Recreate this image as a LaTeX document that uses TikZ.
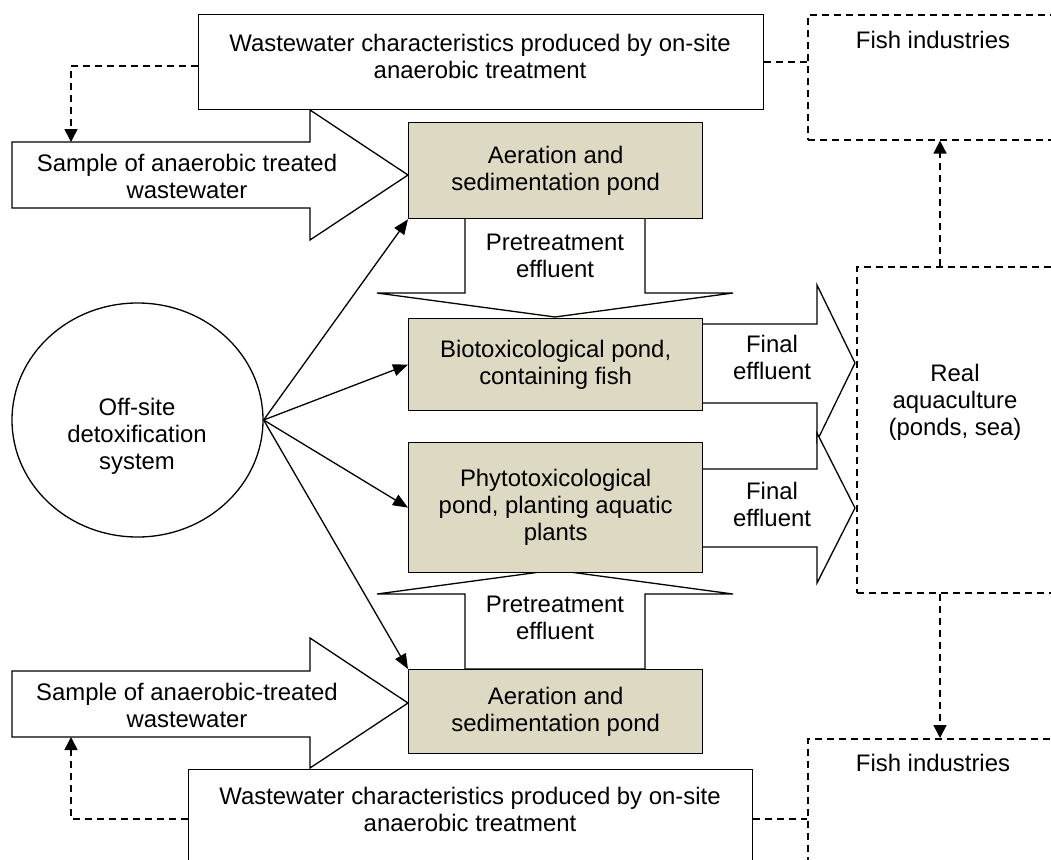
\documentclass[tikz,border=0pt]{standalone}
\usepackage{fontspec}
\setmainfont{Liberation Sans}
\usetikzlibrary{shapes.geometric,arrows.meta}
\definecolor{pond}{RGB}{221,217,195}
\tikzset{
  txt/.style={font=\fontsize{23.9}{27}\selectfont, align=center, inner sep=0pt},
  plainbox/.style={draw, line width=1.3pt, fill=white, inner sep=0pt, anchor=north west},
  pondbox/.style={plainbox, fill=pond, txt},
  dashbox/.style={draw, line width=1.6pt, dash pattern=on 7pt off 5pt, inner sep=0pt, anchor=north west},
  blockarrow/.style={draw, fill=white, line width=1.3pt, line join=miter},
  conn/.style={line width=1.3pt, -{Triangle[length=15pt,width=12pt]}},
  dline/.style={line width=1.6pt, dash pattern=on 7pt off 5pt},
  dconn/.style={dline, -{Triangle[length=13pt,width=13pt]}}
}
\begin{document}
\begin{tikzpicture}[x=1pt,y=-1pt]
\useasboundingbox (0,0) rectangle (1051,859);
\clip (0,0) rectangle (1051,859);

% block arrows
\draw[blockarrow] (12,142) -- (310,142) -- (310,110) -- (408,175) -- (310,240) -- (310,208) -- (12,208) -- cycle;
\draw[blockarrow] (12,671) -- (310,671) -- (310,638) -- (408,703) -- (310,768) -- (310,737) -- (12,737) -- cycle;
\draw[blockarrow] (465,218) -- (645,218) -- (645,293) -- (733,293) -- (555,317) -- (377,293) -- (465,293) -- cycle;
\draw[blockarrow] (465,669) -- (645,669) -- (645,594) -- (733,594) -- (555,570) -- (377,594) -- (465,594) -- cycle;
\draw[blockarrow] (702,324) -- (817,324) -- (817,285) -- (855,363) -- (817,441) -- (817,403) -- (702,403) -- cycle;
\draw[blockarrow] (702,469) -- (817,469) -- (817,433) -- (855,508) -- (817,583) -- (817,547) -- (702,547) -- cycle;

\coordinate (s1top) at (71,142);
\coordinate (s2bot) at (71,737);
\coordinate (upx) at (940,0);

% boxes
\node[plainbox, minimum width=565pt, minimum height=95pt] (ww1) at (198,14) {};
\node[plainbox, minimum width=564pt, minimum height=120pt] (ww2) at (188,769) {};
\node[pondbox, minimum width=294pt, minimum height=96pt] (aer1) at (408,122) {Aeration and\\sedimentation pond};
\node[pondbox, minimum width=294pt, minimum height=92pt] (bio) at (408,318) {Biotoxicological pond,\\containing fish};
\node[pondbox, minimum width=294pt, minimum height=130pt] (phy) at (408,442) {Phytotoxicological\\pond, planting aquatic\\plants};
\node[pondbox, minimum width=294pt, minimum height=84pt] (aer2) at (408,669) {Aeration and\\sedimentation pond};
\node[dashbox, minimum width=260pt, minimum height=125pt] (fish1) at (807,14) {};
\node[dashbox, minimum width=210pt, minimum height=326pt] (real) at (856,266) {};
\node[dashbox, minimum width=260pt, minimum height=130pt] (fish2) at (807,738) {};
\node[draw, line width=1.3pt, ellipse, minimum width=251pt, minimum height=234pt, inner sep=0pt] (off) at (137.5,420) {};

% texts
\node[txt] (t1) at (480,56) {Wastewater characteristics produced by on-site\\anaerobic treatment};
\node[txt] (t2) at (470,809) {Wastewater characteristics produced by on-site\\anaerobic treatment};
\node[txt] (ts1) at (187,176) {Sample of anaerobic treated\\wastewater};
\node[txt] (ts2) at (187,705) {Sample of anaerobic-treated\\wastewater};
\node[txt] (tp1) at (555,256) {Pretreatment\\effluent};
\node[txt] (tp2) at (555,618) {Pretreatment\\effluent};
\node[txt] (tf1) at (772,357) {Final\\effluent};
\node[txt] (tf2) at (772,504) {Final\\effluent};
\node[txt] (treal) at (955,402) {Real\\aquaculture\\(ponds, sea)};
\node[txt] (tfish1) at (933,40) {Fish industries};
\node[txt] (tfish2) at (933,763) {Fish industries};
\node[txt] (toff) at (137,436) {Off-site\\detoxification\\system};

% connectors
\draw[conn] (off.east) -- (aer1.south west);
\draw[conn] (off.east) -- (bio.west);
\draw[conn] (off.east) -- (phy.west);
\draw[conn] (off.east) -- (aer2.north west);

\draw[dconn] (ww1.west |- 0,66) -| (s1top);
\draw[dconn] (ww2.west |- 0,819) -| (s2bot);
\draw[dline] (ww1.east |- 0,62) -- (fish1.west |- 0,62);
\draw[dline] (ww2.east |- 0,819) -- (fish2.west |- 0,819);
\draw[dconn] (real.north -| upx) -- (fish1.south -| upx);
\draw[dconn] (real.south -| upx) -- (fish2.north -| upx);
\end{tikzpicture}
\end{document}
